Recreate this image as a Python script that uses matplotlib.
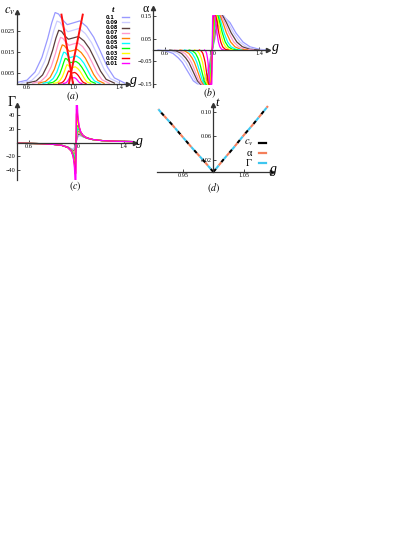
import matplotlib
matplotlib.use("Agg")
import matplotlib.pyplot as plt
from matplotlib.lines import Line2D

plt.rcParams['font.family'] = ['Liberation Serif', 'DejaVu Serif']
plt.rcParams['mathtext.fontset'] = 'stix'

W, H = 415, 537

# ---------------- data ----------------
t_labels = ["0.1", "0.09", "0.08", "0.07", "0.06", "0.05", "0.04", "0.03", "0.02", "0.01"]
t_colors = ['#9999ff', '#ccccff', '#5a3d3d', '#ff99cc', '#ff8000',
            '#00ffff', '#00ff00', '#ffff00', '#ff0000', '#ff00ff']

# (a) specific heat c_v vs g
cv_g = [
    [0.50, 0.60, 0.67, 0.73, 0.78, 0.815, 0.845, 0.875, 0.91, 0.95, 1.00, 1.06, 1.12, 1.18, 1.24, 1.30, 1.36, 1.45],
    [0.55, 0.64, 0.703, 0.757, 0.802, 0.834, 0.861, 0.888, 0.919, 0.955, 1.0, 1.054, 1.108, 1.162, 1.216, 1.27, 1.324, 1.405],
    [0.60, 0.68, 0.736, 0.784, 0.824, 0.852, 0.876, 0.90, 0.928, 0.96, 1.0, 1.048, 1.096, 1.144, 1.192, 1.24, 1.288, 1.36],
    [0.65, 0.72, 0.769, 0.811, 0.846, 0.871, 0.892, 0.913, 0.937, 0.965, 1.0, 1.042, 1.084, 1.126, 1.168, 1.21, 1.252, 1.315],
    [0.70, 0.76, 0.802, 0.838, 0.868, 0.889, 0.907, 0.925, 0.946, 0.97, 1.0, 1.036, 1.072, 1.108, 1.144, 1.18, 1.216, 1.27],
    [0.74, 0.792, 0.828, 0.86, 0.886, 0.904, 0.919, 0.935, 0.953, 0.974, 1.0, 1.031, 1.062, 1.094, 1.125, 1.156, 1.187, 1.234],
    [0.785, 0.828, 0.858, 0.884, 0.905, 0.92, 0.933, 0.946, 0.961, 0.978, 1.0, 1.026, 1.052, 1.077, 1.103, 1.129, 1.155, 1.194],
    [0.83, 0.864, 0.888, 0.908, 0.925, 0.937, 0.947, 0.958, 0.969, 0.983, 1.0, 1.02, 1.041, 1.061, 1.082, 1.102, 1.122, 1.153],
    [0.875, 0.90, 0.918, 0.933, 0.945, 0.954, 0.961, 0.969, 0.978, 0.988, 1.0, 1.015, 1.03, 1.045, 1.06, 1.075, 1.09, 1.113],
    [0.915, 0.932, 0.944, 0.954, 0.963, 0.969, 0.974, 0.979, 0.985, 0.9915, 1.0, 1.01, 1.02, 1.031, 1.041, 1.051, 1.061, 1.077],
]
cv_val = [
    [.0003, .0016, .0055, .0125, .0215, .0290, .0340, .0333, .0305, .0282, .0290, .0300, .0272, .0222, .0152, .0078, .0027, .0002],
    [.00026, .0014, .0048, .0110, .0189, .0255, .0299, .0293, .0268, .0248, .0255, .0264, .0239, .0195, .0134, .0069, .0024, .0002],
    [.0002, .0012, .0041, .0094, .0161, .0218, .0255, .0250, .0229, .0212, .0218, .0225, .0204, .0167, .0114, .0059, .0020, .0002],
    [.0002, .0010, .0036, .0081, .0140, .0189, .0221, .0216, .0198, .0183, .0189, .0195, .0177, .0144, .0099, .0051, .0018, .0001],
    [.00016, .0009, .0030, .0068, .0117, .0158, .0185, .0181, .0166, .0154, .0158, .0164, .0148, .0121, .0083, .0043, .0015, .0001],
    [.00013, .0007, .0024, .0055, .0095, .0128, .0150, .0147, .0134, .0124, .0128, .0132, .0120, .0098, .0067, .0034, .0012, .0001],
    [.0001, .0006, .0019, .0044, .0076, .0102, .0120, .0118, .0108, .0100, .0102, .0106, .0096, .0078, .0054, .0028, .0010, .0001],
    [.0001, .0004, .0015, .0033, .0057, .0077, .0090, .0088, .0081, .0075, .0077, .0080, .0072, .0059, .0040, .0021, .0007, .0001],
    [.0001, .0003, .0010, .0022, .0038, .0051, .0060, .0059, .0054, .0050, .0051, .0053, .0048, .0039, .0027, .0014, .0005, .0000],
    [.0000, .0002, .0005, .0012, .0020, .0027, .0032, .0031, .0029, .0027, .0027, .0028, .0026, .0021, .0014, .0007, .0003, .0000],
]
red_left_g, red_left_c = [0.90, 1.0], [0.033, 0.0]
red_right_g, red_right_c = [1.085, 0.965], [0.033, 0.0]

# (b) thermal expansion alpha vs g
alpha_g = [
    [0.54, 0.609, 0.667, 0.713, 0.747, 0.77, 0.805, 0.839, 0.874, 0.92, 0.96, 1.0, 1.04, 1.08, 1.11, 1.15, 1.2, 1.26, 1.32, 1.40, 1.47],
    [0.594, 0.655, 0.706, 0.746, 0.777, 0.797, 0.827, 0.858, 0.888, 0.935, 0.968, 1.0, 1.033, 1.065, 1.099, 1.135, 1.18, 1.234, 1.288, 1.36, 1.45],
    [0.64, 0.694, 0.739, 0.775, 0.802, 0.82, 0.847, 0.874, 0.901, 0.945, 0.973, 1.0, 1.028, 1.055, 1.088, 1.12, 1.16, 1.208, 1.256, 1.32, 1.40],
    [0.68, 0.728, 0.768, 0.80, 0.824, 0.84, 0.864, 0.888, 0.912, 0.955, 0.978, 1.0, 1.023, 1.045, 1.077, 1.105, 1.14, 1.182, 1.224, 1.28, 1.35],
    [0.726, 0.767, 0.801, 0.829, 0.849, 0.863, 0.884, 0.904, 0.925, 0.962, 0.981, 1.0, 1.019, 1.038, 1.066, 1.09, 1.12, 1.156, 1.192, 1.24, 1.30],
    [0.764, 0.799, 0.829, 0.853, 0.870, 0.882, 0.900, 0.917, 0.935, 0.97, 0.985, 1.0, 1.015, 1.03, 1.055, 1.075, 1.10, 1.13, 1.16, 1.20, 1.25],
    [0.804, 0.833, 0.858, 0.878, 0.892, 0.902, 0.917, 0.931, 0.946, 0.977, 0.989, 1.0, 1.011, 1.022, 1.047, 1.064, 1.085, 1.11, 1.136, 1.17, 1.213],
    [0.85, 0.873, 0.891, 0.906, 0.918, 0.925, 0.936, 0.948, 0.959, 0.984, 0.992, 1.0, 1.008, 1.015, 1.039, 1.053, 1.07, 1.091, 1.112, 1.14, 1.175],
    [0.89, 0.907, 0.920, 0.931, 0.940, 0.945, 0.953, 0.962, 0.970, 0.99, 0.995, 1.0, 1.004, 1.008, 1.03, 1.041, 1.055, 1.072, 1.088, 1.11, 1.138],
    [0.934, 0.944, 0.952, 0.959, 0.964, 0.967, 0.972, 0.977, 0.982, 0.996, 0.998, 1.0, 1.0015, 1.003, 1.022, 1.03, 1.04, 1.052, 1.064, 1.08, 1.10],
]
alpha_val = [
    [0, -0.004, -0.015, -0.035, -0.055, -0.075, -0.105, -0.135, -0.148, -0.145, -0.09, 0, 0.09, 0.146, 0.14, 0.12, 0.075, 0.035, 0.014, 0.003, 0],
    [0, -0.004, -0.015, -0.035, -0.055, -0.075, -0.105, -0.135, -0.15, -0.15, -0.09, 0, 0.09, 0.15, 0.15, 0.12, 0.075, 0.035, 0.014, 0.003, 0],
    [0, -0.004, -0.015, -0.035, -0.055, -0.075, -0.105, -0.135, -0.15, -0.15, -0.09, 0, 0.09, 0.15, 0.15, 0.12, 0.075, 0.035, 0.014, 0.003, 0],
    [0, -0.004, -0.015, -0.035, -0.055, -0.075, -0.105, -0.135, -0.15, -0.15, -0.09, 0, 0.09, 0.15, 0.15, 0.12, 0.075, 0.035, 0.014, 0.003, 0],
    [0, -0.004, -0.015, -0.035, -0.055, -0.075, -0.105, -0.135, -0.15, -0.15, -0.09, 0, 0.09, 0.15, 0.15, 0.12, 0.075, 0.035, 0.014, 0.003, 0],
    [0, -0.004, -0.015, -0.035, -0.055, -0.075, -0.105, -0.135, -0.15, -0.15, -0.09, 0, 0.09, 0.15, 0.15, 0.12, 0.075, 0.035, 0.014, 0.003, 0],
    [0, -0.004, -0.015, -0.035, -0.055, -0.075, -0.105, -0.135, -0.15, -0.15, -0.09, 0, 0.09, 0.15, 0.15, 0.12, 0.075, 0.035, 0.014, 0.003, 0],
    [0, -0.004, -0.015, -0.035, -0.055, -0.075, -0.105, -0.135, -0.15, -0.15, -0.09, 0, 0.09, 0.15, 0.15, 0.12, 0.075, 0.035, 0.014, 0.003, 0],
    [0, -0.004, -0.015, -0.035, -0.055, -0.075, -0.105, -0.135, -0.15, -0.15, -0.09, 0, 0.09, 0.15, 0.15, 0.12, 0.075, 0.035, 0.014, 0.003, 0],
    [0, -0.004, -0.015, -0.035, -0.055, -0.075, -0.105, -0.135, -0.15, -0.15, -0.09, 0, 0.09, 0.15, 0.15, 0.12, 0.075, 0.035, 0.014, 0.003, 0],
]

# (c) Grueneisen ratio Gamma vs g
gamma_g = [0.50, 0.60, 0.70, 0.80, 0.88, 0.93, 0.96, 0.975, 0.985, 0.992, 0.997, 1.0,
           1.003, 1.008, 1.015, 1.025, 1.04, 1.06, 1.09, 1.14, 1.22, 1.32, 1.48]
gamma_val = [
    [-1.0, -1.25, -1.66, -2.46, -3.99, -6.33, -8.99, -10.0, -8.82, -5.81, -2.37, 0, 1.98, 4.98, 8.0, 9.84, 9.6, 8.0, 6.0, 4.1, 2.68, 1.86, 1.25],
    [-1.0, -1.25, -1.66, -2.47, -4.03, -6.47, -9.5, -11.05, -10.26, -7.02, -2.91, 0, 2.44, 6.05, 9.43, 11.08, 10.3, 8.32, 6.12, 4.13, 2.69, 1.86, 1.25],
    [-1.0, -1.25, -1.66, -2.48, -4.05, -6.6, -10.0, -12.2, -12.0, -8.62, -3.67, 0, 3.08, 7.5, 11.24, 12.49, 11.03, 8.62, 6.22, 4.16, 2.7, 1.87, 1.25],
    [-1.0, -1.25, -1.67, -2.48, -4.08, -6.72, -10.5, -13.4, -14.1, -10.8, -4.76, 0, 4.0, 9.5, 13.5, 14.07, 11.76, 8.91, 6.32, 4.19, 2.7, 1.87, 1.25],
    [-1.0, -1.25, -1.67, -2.49, -4.1, -6.83, -10.96, -14.7, -16.67, -13.84, -6.41, 0, 5.41, 12.37, 16.39, 15.8, 12.47, 9.17, 6.41, 4.22, 2.71, 1.87, 1.25],
    [-1.0, -1.25, -1.67, -2.49, -4.12, -6.92, -11.39, -16.0, -19.7, -18.2, -9.09, 0, 7.69, 16.6, 20.0, 17.65, 13.15, 9.41, 6.49, 4.24, 2.72, 1.87, 1.25],
    [-1.0, -1.25, -1.67, -2.5, -4.14, -7.0, -11.76, -17.2, -23.1, -24.4, -13.8, 0, 11.76, 23.1, 24.4, 19.5, 13.76, 9.62, 6.55, 4.26, 2.72, 1.87, 1.25],
    [-1.0, -1.25, -1.67, -2.5, -4.15, -7.06, -12.1, -18.4, -26.7, -33.3, -23.0, 0, 20.0, 33.1, 29.4, 21.2, 14.28, 9.78, 6.6, 4.27, 2.72, 1.87, 1.25],
    [-1.0, -1.25, -1.67, -2.5, -4.16, -7.1, -12.3, -19.2, -30.0, -44.9, -44.1, 0, 40.0, 48.0, 34.5, 22.7, 14.67, 9.9, 6.64, 4.28, 2.72, 1.87, 1.25],
    [-1.0, -1.25, -1.67, -2.5, -4.16, -7.12, -12.45, -19.8, -32.4, -56.9, -98.0, 0, 100.0, 65.8, 38.5, 23.7, 14.9, 9.98, 6.67, 4.28, 2.72, 1.87, 1.25],
]

# (d) crossover lines t*(g)
crit_t_left = [0.0, 0.02, 0.04, 0.06, 0.08, 0.10, 0.105]
crit_g_left = [1.0, 0.983, 0.965, 0.948, 0.931, 0.913, 0.909]
crit_t_right = [0.0, 0.02, 0.04, 0.06, 0.08, 0.10, 0.11]
crit_g_right = [1.0, 1.016, 1.033, 1.049, 1.066, 1.082, 1.090]
crit_names = ['$c_v$', 'α', 'Γ']
crit_colors = ['#000000', '#f47f5a', '#3ec6ef']

# ---------------- figure ----------------
fig = plt.figure(figsize=(W / 100, H / 100), dpi=100)


def panel(x0, x1, y0, y1):
    return fig.add_axes([x0 / W, 1 - y1 / H, (x1 - x0) / W, (y1 - y0) / H])


def ftext(x, y, s, **kw):
    kw.setdefault('ha', 'center')
    kw.setdefault('va', 'center')
    fig.text(x / W, 1 - y / H, s, **kw)


def axes_style(ax, xaxis_at, yaxis_at, xticks, xlabels, yticks, ylabels):
    for s in ('top', 'right'):
        ax.spines[s].set_visible(False)
    ax.spines['bottom'].set_position(('data', xaxis_at))
    ax.spines['left'].set_position(('data', yaxis_at))
    for s in ('bottom', 'left'):
        ax.spines[s].set_linewidth(0.9)
        ax.spines[s].set_color('#333333')
    ax.set_xticks(xticks)
    ax.set_xticklabels(xlabels)
    ax.set_yticks(yticks)
    ax.set_yticklabels(ylabels)
    ax.tick_params(length=2, width=0.5, direction='in', labelsize=4.5, pad=1)
    ax.patch.set_alpha(0)
    ax.plot(1, xaxis_at, '>', color='#333333', ms=3, transform=ax.get_yaxis_transform(), clip_on=False)
    ax.plot(yaxis_at, 1, '^', color='#333333', ms=3, transform=ax.get_xaxis_transform(), clip_on=False)


# (a)
ax_a = panel(16.6, 128.2, 11.5, 83.5)
ax_a.set_xlim(0.51, 1.48)
ax_a.set_ylim(0, 0.0345)
for g, c, col in zip(cv_g, cv_val, t_colors):
    ax_a.plot(g, c, color=col, lw=0.9)
ax_a.plot(red_left_g, red_left_c, color='#ff1010', lw=1.4)
ax_a.plot(red_right_g, red_right_c, color='#ff1010', lw=1.4)
axes_style(ax_a, 0, 0.51, [0.6, 1.0, 1.4], ['0.6', '1.0', '1.4'],
           [0.005, 0.015, 0.025], ['0.005', '0.015', '0.025'])
ftext(10, 11, '$c_v$', fontsize=9)
ftext(134, 80, 'g', fontsize=10, style='italic')
ftext(73, 96.5, '$(a)$', fontsize=7)
ftext(113, 10.5, 't', fontsize=6.5, style='italic', weight='bold')
for i, (lab, col) in enumerate(zip(t_labels, t_colors)):
    y = 17.3 + 5.1 * i
    ftext(106, y, lab, fontsize=3.6, ha='left', family='DejaVu Sans', weight='bold')
    fig.add_artist(Line2D([121.5 / W, 128.5 / W], [1 - y / H, 1 - y / H], color=col, lw=1.0))

# (b)
ax_b = panel(153.3, 267.5, 8, 87)
ax_b.set_xlim(0.50, 1.468)
ax_b.set_ylim(-0.162, 0.184)
for g, a, col in zip(alpha_g, alpha_val, t_colors):
    ax_b.plot(g, a, color=col, lw=0.9)
axes_style(ax_b, 0, 0.50, [0.6, 1.0, 1.4], ['0.6', '1.0', '1.4'],
           [-0.15, -0.05, 0.05, 0.15], ['\u22120.15', '\u22120.05', '0.05', '0.15'])
ftext(146, 8.5, 'α', fontsize=8.5)
ftext(275, 48, 'g', fontsize=10, style='italic')
ftext(209, 93, '$(b)$', fontsize=7)

# (c)
ax_c = panel(16.7, 135, 105, 180)
ax_c.set_xlim(0.50, 1.496)
ax_c.set_ylim(-53.6, 53.6)
for vals, col in zip(gamma_val, t_colors):
    ax_c.plot(gamma_g, vals, color=col, lw=0.9)
axes_style(ax_c, 0, 0.50, [0.6, 1.0, 1.4], ['0.6', '1.0', '1.4'],
           [-40, -20, 20, 40], ['\u221240', '\u221220', '20', '40'])
ftext(12, 102, 'Γ', fontsize=10)
ftext(140, 141, 'g', fontsize=10, style='italic')
ftext(75, 186, '$(c)$', fontsize=7)

# (d)
ax_d = panel(157, 271.7, 105, 172)
ax_d.set_xlim(0.907, 1.0962)
ax_d.set_ylim(0, 0.1117)
for k, col in enumerate(crit_colors):
    ls = (2.0 * k, (2.0, 4.0))
    ax_d.plot(crit_g_left, crit_t_left, color=col, lw=1.5, linestyle=ls)
    ax_d.plot(crit_g_right, crit_t_right, color=col, lw=1.5, linestyle=ls)
axes_style(ax_d, 0, 1.0, [0.95, 1.05], ['0.95', '1.05'],
           [0.02, 0.06, 0.10], ['0.02', '0.06', '0.10'])
ftext(217, 103, 't', fontsize=9, style='italic')
ftext(274, 169, 'g', fontsize=10, style='italic')
ftext(213, 188, '$(d)$', fontsize=7)
for i, (name, col) in enumerate(zip(crit_names, crit_colors)):
    y = 143 + 10 * i
    ftext(249, y, name, fontsize=7.5)
    fig.add_artist(Line2D([259 / W, 266 / W], [1 - y / H, 1 - y / H], color=col, lw=1.6))

fig.savefig('out.png', dpi=100)
